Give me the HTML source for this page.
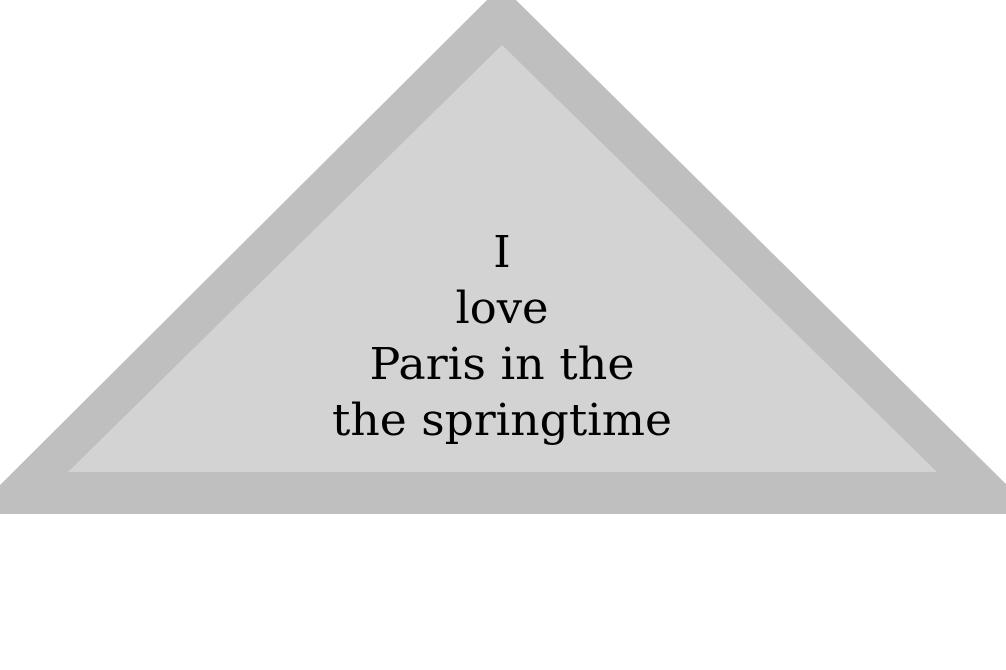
<!DOCTYPE html>
<html><head><meta charset="utf-8"><style>
html,body{margin:0;padding:0;background:#fff;width:1006px;height:670px;overflow:hidden}
svg{display:block}
text{font-family:"DejaVu Serif","Liberation Serif",serif;font-size:44px;fill:#000}
</style></head><body>
<svg width="1006" height="670" viewBox="0 0 1006 670">
<polygon points="487,0 516,0 1006,484 1006,514 0,514 0,485" fill="#bfbfbf"/>
<polygon points="502,45 937,472 68,472" fill="#d3d3d3"/>
<g text-anchor="middle">
<text x="502" y="267">I</text>
<text x="502" y="323" textLength="93" lengthAdjust="spacingAndGlyphs">love</text>
<text x="502" y="379" textLength="265" lengthAdjust="spacingAndGlyphs">Paris in the</text>
<text x="502" y="435" textLength="340" lengthAdjust="spacingAndGlyphs">the springtime</text>
</g>
</svg>
</body></html>
